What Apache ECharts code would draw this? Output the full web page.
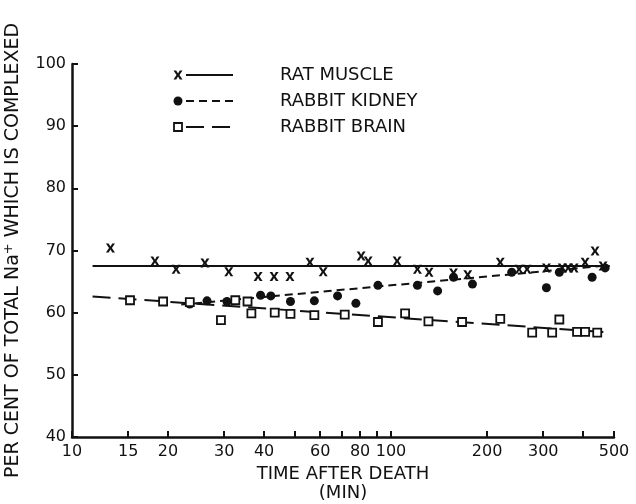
<!DOCTYPE html>
<html lang="en">
    <head>
        <meta charset="UTF-8" />
        <title>Complexed Na+ after death</title>
        <script src="https://cdn.jsdelivr.net/npm/echarts@6/dist/echarts.min.js"></script>
        <style>
            body {
                margin: 0;
                padding: 0;
                background: #fff;
            }
            #chart {
                width: 636px;
                height: 504px;
            }
        </style>
    </head>
    <body>
        <div id="chart"></div>
        <script>
            // values (x in min, y in %)
            let muscleX = [13.2, 18.2, 21.2, 26.1, 31, 38.3, 43, 48.2, 55.7, 61.3, 80.6, 84.8, 104.5, 121, 131.6, 157, 174, 220, 252, 267, 307, 344, 359, 375, 406, 436, 462];
            let muscleY = [70.4, 68.3, 67.0, 68.0, 66.6, 65.8, 65.8, 65.8, 68.1, 66.6, 69.1, 68.3, 68.3, 67.0, 66.5, 66.4, 66.1, 68.1, 67.0, 67.0, 67.2, 67.2, 67.2, 67.2, 68.1, 69.9, 67.5];

            let kidneyX = [23.4, 26.5, 30.6, 39, 42, 48.4, 57.5, 68, 77.6, 91, 121, 140, 157, 180, 239, 307, 337, 427, 469];
            let kidneyY = [61.4, 61.9, 61.8, 62.8, 62.7, 61.8, 61.9, 62.7, 61.5, 64.4, 64.4, 63.5, 65.7, 64.6, 66.5, 64.0, 66.5, 65.7, 67.2];

            let brainX = [15.2, 19.3, 23.4, 29.3, 32.5, 35.5, 36.5, 43.2, 48.4, 57.5, 71.6, 91, 110.7, 131, 167, 220, 277, 320, 337, 383, 406, 443];
            let brainY = [62.0, 61.8, 61.7, 58.8, 62.0, 61.8, 59.9, 60.0, 59.8, 59.6, 59.7, 58.5, 59.9, 58.6, 58.5, 59.0, 56.8, 56.8, 58.9, 56.9, 56.9, 56.8];

            // fitted lines (end points)
            let muscleFitX = [11.6, 485];
            let muscleFitY = [67.5, 67.5];
            let kidneyFitX = [22, 480];
            let kidneyFitY = [61.3, 67.6];
            let brainFitX = [11.6, 490];
            let brainFitY = [62.6, 56.8];

            let xTicks = [10, 15, 20, 30, 40, 50, 60, 70, 80, 90, 100, 200, 300, 400, 500];
            let xLabels = [10, 15, 20, 30, 40, 60, 80, 100, 200, 300, 500];
            let names = ['RAT MUSCLE', 'RABBIT KIDNEY', 'RABBIT BRAIN'];

            function pairs(xs, ys) {
                return xs.map((x, i) => [x, ys[i]]);
            }

            let font = 'DejaVu Sans';
            let ink = '#111';
            let crossPath = 'path://M0,0L3,0L5,3.4L7,0L10,0L6.6,5L10,10L7,10L5,6.6L3,10L0,10L3.4,5Z';
            // same cross for the legend sample, centred on (178, 75)
            let crossPts = [[0, 0], [3, 0], [5, 3.4], [7, 0], [10, 0], [6.6, 5], [10, 10], [7, 10], [5, 6.6], [3, 10], [0, 10], [3.4, 5]].map((p) => [173.5 + p[0] * 0.9, 70.5 + p[1] * 0.9]);

            function legendText(text, y) {
                return { type: 'text', style: { text: text, x: 280, y: y, verticalAlign: 'middle', fontSize: 18, fontFamily: font, fill: ink } };
            }

            let chart = echarts.init(document.getElementById('chart'));
            let option = {
                animation: false,
                backgroundColor: '#fff',
                textStyle: { fontFamily: font, color: ink },
                grid: { left: 72, right: 22, top: 64, bottom: 67, outerBoundsMode: 'none', containLabel: false },
                xAxis: {
                    type: 'log',
                    logBase: 10,
                    min: 10,
                    max: 500,
                    name: 'TIME AFTER DEATH\n(MIN)',
                    nameLocation: 'middle',
                    nameGap: 26,
                    nameTextStyle: { fontSize: 18, lineHeight: 19, color: ink, fontFamily: font },
                    axisLine: { lineStyle: { color: ink, width: 2.5 } },
                    axisTick: { inside: true, length: 6, customValues: xTicks, lineStyle: { color: ink, width: 2 } },
                    axisLabel: { customValues: xLabels, margin: 7, fontSize: 16, color: ink, fontFamily: font },
                    splitLine: { show: false },
                    minorTick: { show: false }
                },
                yAxis: {
                    type: 'value',
                    min: 40,
                    max: 100,
                    interval: 10,
                    name: '{t|PER CENT OF TOTAL Na}{s|+}{t| WHICH IS COMPLEXED}',
                    nameLocation: 'middle',
                    nameGap: 47,
                    nameTextStyle: {
                        rich: {
                            t: { fontSize: 19, color: ink, fontFamily: font },
                            s: { fontSize: 13, color: ink, fontFamily: font, verticalAlign: 'top', padding: [0, 0, 10, 0] }
                        }
                    },
                    axisLine: { show: true, lineStyle: { color: ink, width: 2.5 } },
                    axisTick: { show: true, inside: true, length: 6, lineStyle: { color: ink, width: 2 } },
                    axisLabel: { margin: 6, fontSize: 16, color: ink, fontFamily: font },
                    splitLine: { show: false }
                },
                graphic: [
                    // legend samples
                    { type: 'polygon', shape: { points: crossPts }, style: { fill: ink } },
                    { type: 'line', shape: { x1: 186, y1: 75, x2: 233, y2: 75 }, style: { stroke: ink, lineWidth: 2 } },
                    legendText(names[0], 75),
                    { type: 'circle', shape: { cx: 178, cy: 101, r: 4.5 }, style: { fill: ink } },
                    { type: 'line', shape: { x1: 186, y1: 101, x2: 233, y2: 101 }, style: { stroke: ink, lineWidth: 2, lineDash: [8, 5] } },
                    legendText(names[1], 101),
                    { type: 'rect', shape: { x: 174, y: 123, width: 8, height: 8 }, style: { fill: '#fff', stroke: ink, lineWidth: 1.8 } },
                    { type: 'line', shape: { x1: 186, y1: 127, x2: 233, y2: 127 }, style: { stroke: ink, lineWidth: 2, lineDash: [18, 8] } },
                    legendText(names[2], 127)
                ],
                series: [
                    {
                        name: names[0] + ' fit',
                        type: 'line',
                        data: pairs(muscleFitX, muscleFitY),
                        showSymbol: false,
                        lineStyle: { color: ink, width: 2 },
                        z: 1
                    },
                    {
                        name: names[1] + ' fit',
                        type: 'line',
                        data: pairs(kidneyFitX, kidneyFitY),
                        showSymbol: false,
                        lineStyle: { color: ink, width: 2, type: [8, 5] },
                        z: 1
                    },
                    {
                        name: names[2] + ' fit',
                        type: 'line',
                        data: pairs(brainFitX, brainFitY),
                        showSymbol: false,
                        lineStyle: { color: ink, width: 2, type: [18, 8] },
                        z: 1
                    },
                    {
                        name: names[0],
                        type: 'scatter',
                        data: pairs(muscleX, muscleY),
                        symbol: crossPath,
                        symbolSize: 9,
                        itemStyle: { color: ink, opacity: 1 },
                        z: 3
                    },
                    {
                        name: names[1],
                        type: 'scatter',
                        data: pairs(kidneyX, kidneyY),
                        symbol: 'circle',
                        symbolSize: 9,
                        itemStyle: { color: ink, opacity: 1 },
                        z: 3
                    },
                    {
                        name: names[2],
                        type: 'scatter',
                        data: pairs(brainX, brainY),
                        symbol: 'rect',
                        symbolSize: 8,
                        itemStyle: { color: '#fff', borderColor: ink, borderWidth: 1.8, opacity: 1 },
                        z: 3
                    }
                ]
            };
            chart.setOption(option);
        </script>
    </body>
</html>
